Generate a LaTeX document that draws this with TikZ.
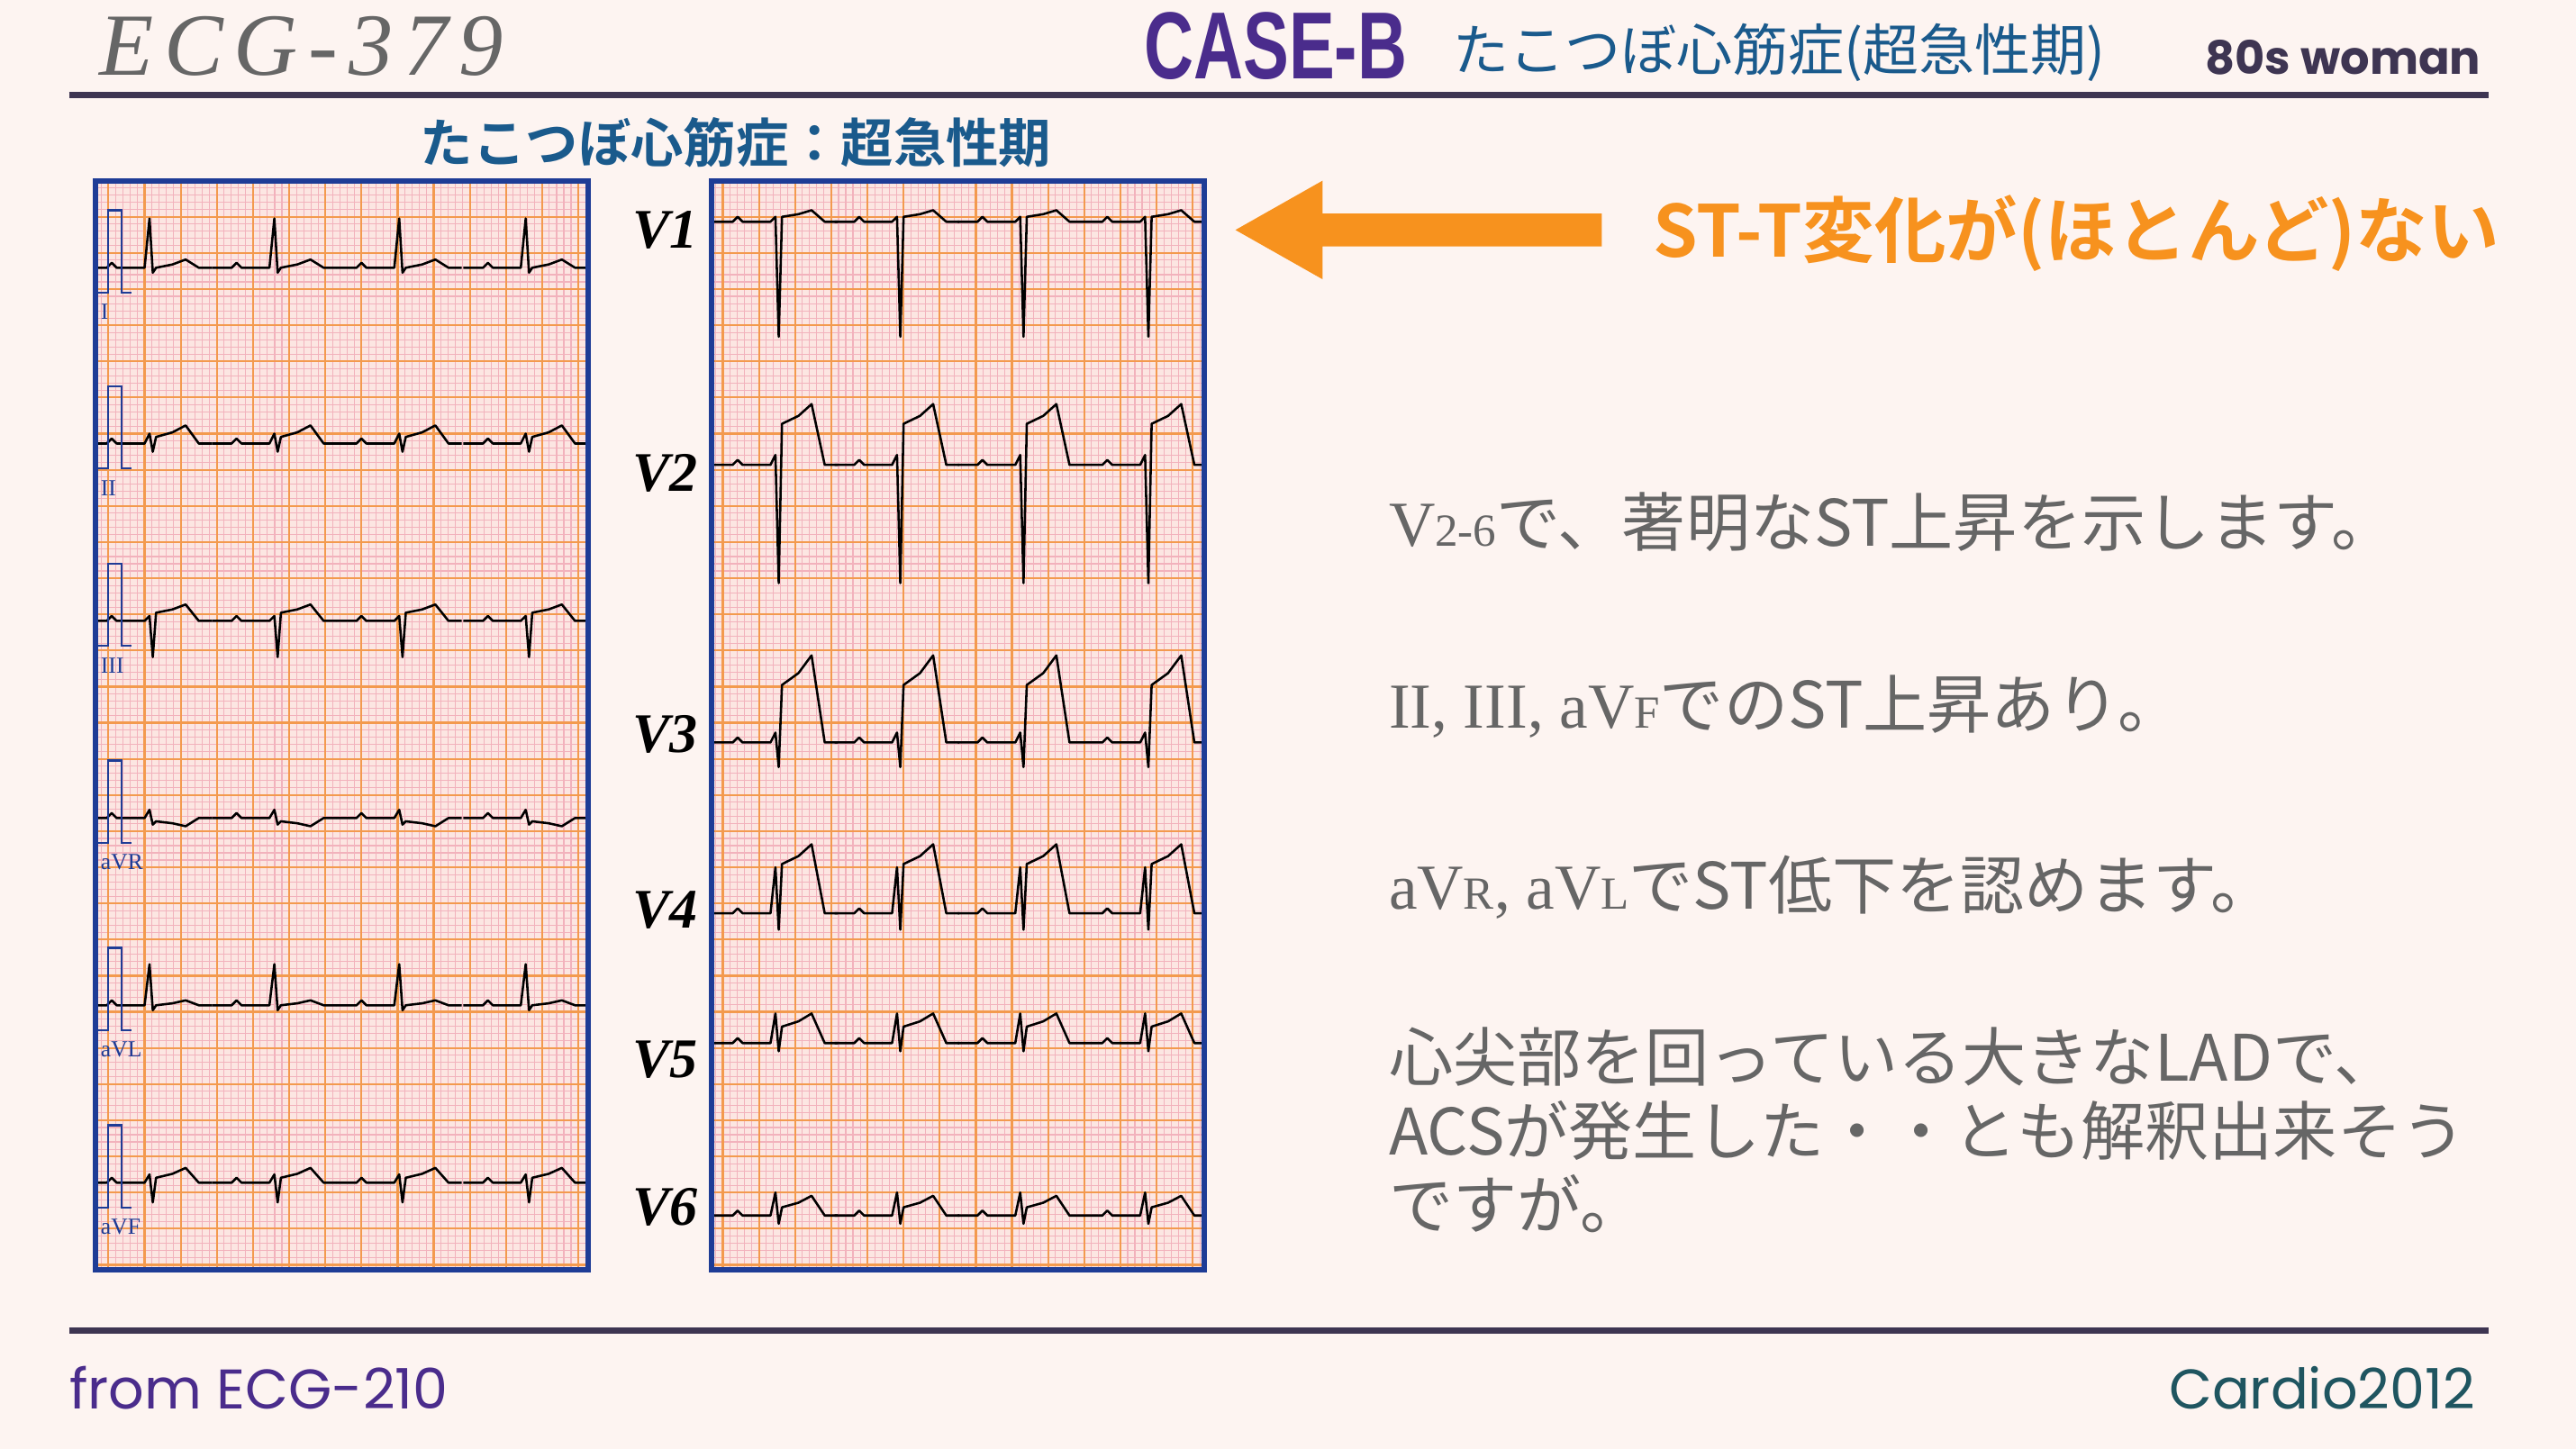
\documentclass[tikz,border=0pt]{standalone}
\usepackage{fontspec}
\setmainfont{Liberation Serif}
\newfontfamily\jp{Noto Sans CJK JP}
\newfontfamily\jpb{Noto Sans CJK JP Bold}
\newfontfamily\cond[FakeStretch=0.72]{Liberation Sans Bold}
\newfontfamily\typew[LetterSpace=12]{Liberation Serif}
\newfontfamily\rnd{Poppins}
\definecolor{bg}{HTML}{FDF4F1}
\definecolor{rule}{HTML}{3E3552}
\definecolor{purp}{HTML}{4A2C8C}
\definecolor{tblue}{HTML}{1A5A8C}
\definecolor{orng}{HTML}{F7921E}
\definecolor{gtext}{HTML}{666666}
\definecolor{paper}{HTML}{FCE6E2}
\definecolor{fine}{HTML}{F2B2BC}
\definecolor{major}{HTML}{F39A4E}
\definecolor{frame}{HTML}{1E3C96}
\definecolor{teal}{HTML}{1F5560}
\tikzset{
 ecgline/.style={line width=0.7pt,black,line join=round},
 panel/.style={draw=frame,line width=1.6pt},
 leadlab/.style={font=\itshape\bfseries\fontsize{17}{17}\selectfont,anchor=center},
 smalllab/.style={font=\fontsize{7}{7}\selectfont,text=frame,anchor=west,inner sep=0pt},
 body/.style={font=\jp\fontsize{19.5}{22.5}\selectfont,text=gtext,anchor=west,inner sep=0pt},
}
\newcommand\ecgbeat[6]{%
\draw[ecgline] ({#1-38},{#2}) -- ({#1-26},{#2}) -- ({#1-23},{#2-3}) -- ({#1-20},{#2}) -- ({#1-3},{#2}) -- ({#1},{#2-#3}) -- ({#1+2},{#2+#4}) -- ({#1+4},{#2-#5}) -- ({#1+14},{#2-#5-0.4*#6}) -- ({#1+22},{#2-#5-#6}) -- ({#1+30},{#2}) -- ({#1+38},{#2});}
\newcommand\gridpanel[4]{%
\fill[paper] (#1,#2) rectangle (#3,#4);
\begin{scope}
\clip (#1,#2) rectangle (#3,#4);
\draw[fine,line width=0.3pt,step=2.2pt] (#1,#2) grid (#3,#4);
\draw[major,line width=0.6pt,step=11pt] (#1,#2) grid (#3,#4);
\end{scope}}
\begin{document}
\begin{tikzpicture}[x=0.5pt,y=-0.5pt]
\fill[bg] (0,0) rectangle (1568,882);
\useasboundingbox (0,0) rectangle (1568,882);
% header
\node[font=\typew\itshape\fontsize{27}{27}\selectfont,text=gtext,anchor=west,inner sep=0pt] (ecg) at (60,28) {ECG-379};
\draw[rule,line width=2pt] (42,58) -- (1515,58);
\node[font=\cond\fontsize{29}{29}\selectfont,text=purp,anchor=west,inner sep=0pt] (case) at (696,28) {CASE-B};
\node[font=\jp\fontsize{17}{17}\selectfont,text=tblue,anchor=west,inner sep=0pt] (ttl) at (884,32) {たこつぼ心筋症(超急性期)};
\node[font=\rnd\bfseries\fontsize{14}{14}\selectfont,text=rule,anchor=west,inner sep=0pt] (who) at (1342,35) {80s woman};
\node[font=\jpb\fontsize{16}{16}\selectfont,text=tblue,inner sep=0pt] (sub) at (448,87) {たこつぼ心筋症：超急性期};
% panels
\gridpanel{58}{110}{358}{773}
\gridpanel{433}{110}{733}{773}
\begin{scope}
\clip (58,110) rectangle (358,773);
\foreach \b/\nm/\R/\S/\st/\t in {163/I/30/3/0/5, 270/II/6/5/4/7, 378/III/3/22/5/5, 498/aVR/5/4/(-2)/(-3), 612/aVL/25/3/0/3, 720/aVF/5/12/3/6}{
 \foreach \bx in {91,167,243,320}{\ecgbeat{\bx}{\b}{\R}{\S}{\st}{\t}}
 \draw[frame,line width=0.6pt] (60,\b+15) -- (66,\b+15) -- (66,\b-35) -- (74,\b-35) -- (74,\b+15) -- (80,\b+15);
 \node[smalllab] at (61,\b+27) {\nm};
}
\end{scope}
\begin{scope}
\clip (433,110) rectangle (733,773);
\foreach \b/\R/\S/\st/\t in {135/3/70/3/4, 283/6/72/25/12, 452/6/15/35/18, 556/28/10/30/12, 635/18/5/10/8, 740/14/5/5/7}{
 \foreach \bx in {472,546,621,697}{\ecgbeat{\bx}{\b}{\R}{\S}{\st}{\t}}
}
\end{scope}
\draw[panel] (58,110) rectangle (358,773);
\draw[panel] (433,110) rectangle (733,773);
\node[leadlab] (v1) at (405,140) {V1};
\node[leadlab] (v2) at (405,288) {V2};
\node[leadlab] (v3) at (405,447) {V3};
\node[leadlab] (v4) at (405,554) {V4};
\node[leadlab] (v5) at (405,645) {V5};
\node[leadlab] (v6) at (405,735) {V6};
% arrow
\fill[orng] (975,130) -- (805,130) -- (805,110) -- (752,140) -- (805,170) -- (805,150) -- (975,150) -- cycle;
\node[font=\jpb\fontsize{21.8}{22}\selectfont,text=orng,anchor=west,inner sep=0pt] (stt) at (1006,142) {ST-T変化が(ほとんど)ない};
% body text
\node[body] (l1) at (845,318) {{\rmfamily V}{\rmfamily\fontsize{14}{14}\selectfont 2-6}で、著明なST上昇を示します。};
\node[body] (l2) at (845,430) {{\rmfamily II, III, aV}{\rmfamily\fontsize{14}{14}\selectfont F}でのST上昇あり。};
\node[body] (l3) at (845,540) {{\rmfamily aV}{\rmfamily\fontsize{14}{14}\selectfont R}{\rmfamily, aV}{\rmfamily\fontsize{14}{14}\selectfont L}でST低下を認めます。};
\node[body,align=left,anchor=north west] (l4) at (845,625) {心尖部を回っている大きなLADで、\\ACSが発生した・・とも解釈出来そう\\ですが。};
% footer
\draw[rule,line width=2pt] (42,810) -- (1515,810);
\node[font=\rnd\fontsize{17}{17}\selectfont,text=purp,anchor=west,inner sep=0pt] (from) at (42,845) {from ECG-210};
\node[font=\rnd\fontsize{17}{17}\selectfont,text=teal,anchor=east,inner sep=0pt] (cardio) at (1507,845) {Cardio2012};
\end{tikzpicture}
\end{document}
